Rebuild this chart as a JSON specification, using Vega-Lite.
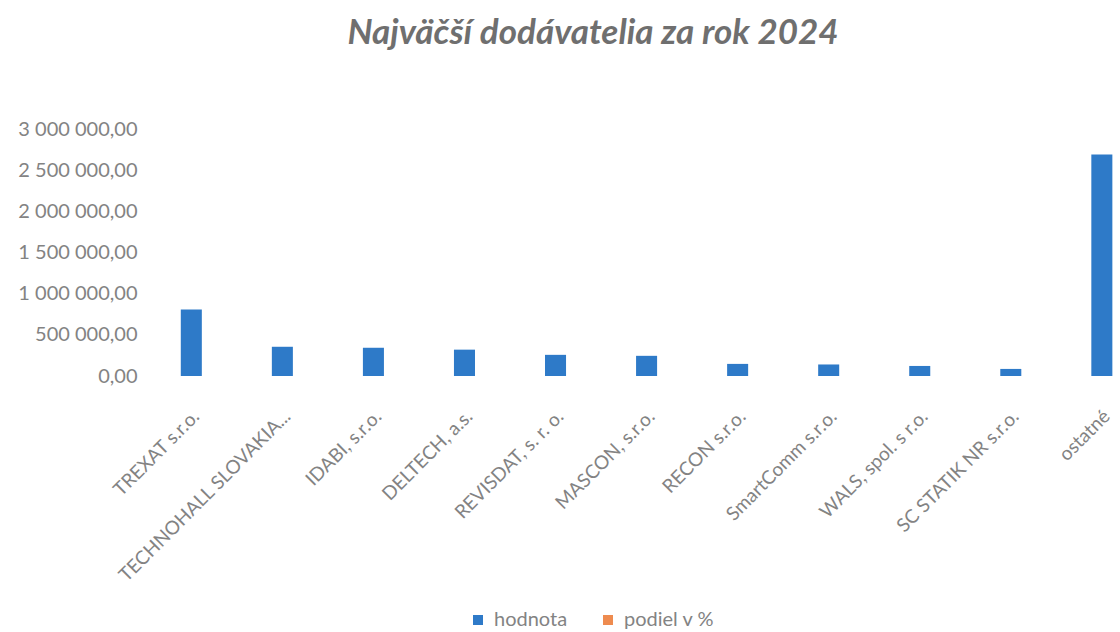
{
  "$schema": "https://vega.github.io/schema/vega-lite/v6.json",
  "width": 974,
  "height": 247,
  "autosize": {"type": "none"},
  "padding": {"left": 146, "top": 129, "right": 0, "bottom": 256},
  "background": "white",
  "config": {
    "locale": {"number": {"decimal": ",", "thousands": " ", "grouping": [3], "currency": ["", ""]}},
    "view": {"stroke": null},
    "font": "Lato"
  },
  "title": {
    "text": "Najväčší dodávatelia za rok 2024",
    "font": "Lato",
    "fontSize": 35,
    "fontWeight": "bold",
    "fontStyle": "italic",
    "color": "#6f6f6f",
    "anchor": "middle",
    "frame": "group",
    "dx": -40,
    "offset": 68
  },
  "data": {
    "values": [
      {"dodavatel": "TREXAT s.r.o.", "hodnota": 808000, "seria": "hodnota"},
      {"dodavatel": "TECHNOHALL SLOVAKIA...", "hodnota": 355000, "seria": "hodnota"},
      {"dodavatel": "IDABI, s.r.o.", "hodnota": 343000, "seria": "hodnota"},
      {"dodavatel": "DELTECH, a.s.", "hodnota": 320000, "seria": "hodnota"},
      {"dodavatel": "REVISDAT, s. r. o.", "hodnota": 257000, "seria": "hodnota"},
      {"dodavatel": "MASCON, s.r.o.", "hodnota": 245000, "seria": "hodnota"},
      {"dodavatel": "RECON s.r.o.", "hodnota": 147000, "seria": "hodnota"},
      {"dodavatel": "SmartComm s.r.o.", "hodnota": 140000, "seria": "hodnota"},
      {"dodavatel": "WALS, spol. s r.o.", "hodnota": 122000, "seria": "hodnota"},
      {"dodavatel": "SC STATIK NR s.r.o.", "hodnota": 86000, "seria": "hodnota"},
      {"dodavatel": "ostatné", "hodnota": 2690000, "seria": "hodnota"}
    ]
  },
  "mark": {"type": "bar"},
  "encoding": {
    "x": {
      "field": "dodavatel",
      "type": "nominal",
      "sort": null,
      "scale": {"paddingInner": 0.769, "paddingOuter": 0.233, "align": 0.82},
      "axis": {
        "title": null,
        "labelAngle": -45,
        "labelAlign": "right",
        "labelBaseline": "middle",
        "labelFontSize": 19,
        "labelColor": "#838383",
        "labelPadding": 37,
        "labelOffset": 5,
        "ticks": false,
        "tickSize": 0,
        "domain": false,
        "labelLimit": 400
      }
    },
    "y": {
      "field": "hodnota",
      "type": "quantitative",
      "scale": {"domain": [0, 3000000]},
      "axis": {
        "title": null,
        "values": [0, 500000, 1000000, 1500000, 2000000, 2500000, 3000000],
        "format": ",.2f",
        "labelFontSize": 20,
        "labelColor": "#838383",
        "ticks": false,
        "tickSize": 0,
        "domain": false,
        "grid": false,
        "labelPadding": 9
      }
    },
    "color": {
      "field": "seria",
      "type": "nominal",
      "scale": {"domain": ["hodnota", "podiel v %"], "range": ["#2E7AC8", "#EE8B4F"]},
      "legend": {
        "orient": "none",
        "legendX": 322,
        "legendY": 481,
        "direction": "horizontal",
        "title": null,
        "symbolType": "square",
        "symbolSize": 100,
        "symbolStrokeWidth": 0,
        "labelFontSize": 20,
        "labelColor": "#838383",
        "labelOffset": 6,
        "columnPadding": 30,
        "padding": 0
      }
    }
  }
}
